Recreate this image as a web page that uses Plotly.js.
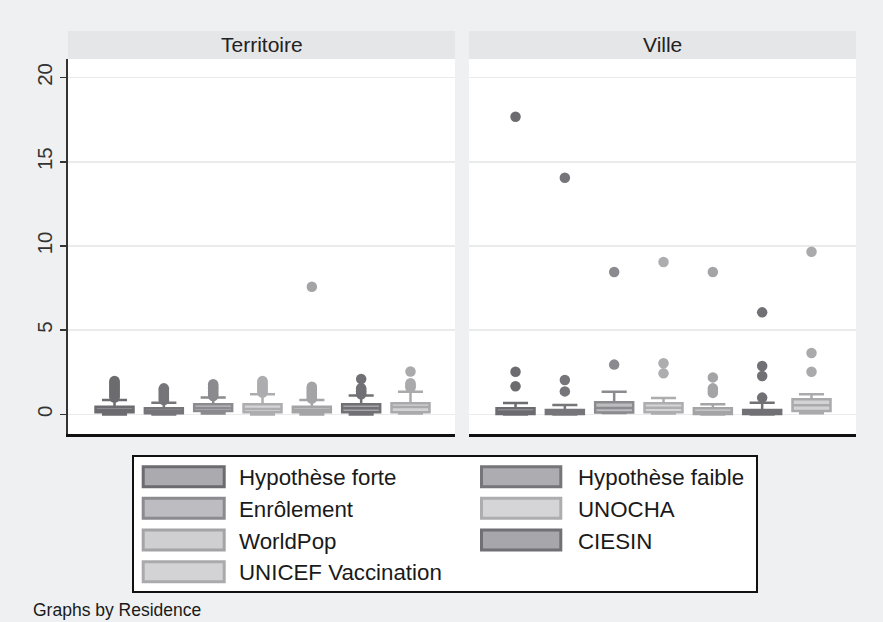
<!DOCTYPE html>
<html>
<head>
<meta charset="utf-8">
<script src="https://cdn.plot.ly/plotly-3.0.1.min.js"></script>
<style>html,body{margin:0;padding:0;background:#eef0f2;}</style>
</head>
<body>
<div id="chart" style="width:883px;height:622px;"></div>
<script>
// ---- Data ----
const seriesNames = ['Hypothèse forte','Hypothèse faible','Enrôlement','UNOCHA','WorldPop','CIESIN','UNICEF Vaccination'];
const panelNames = ['Territoire','Ville'];

// Territoire panel box statistics
const terrLow    = [0.00, 0.00, 0.05, 0.00, 0.00, 0.00, 0.05];
const terrQ1     = [0.13, 0.07, 0.21, 0.13, 0.13, 0.13, 0.13];
const terrMedian = [0.28, 0.20, 0.38, 0.33, 0.28, 0.37, 0.45];
const terrQ3     = [0.46, 0.37, 0.60, 0.60, 0.46, 0.60, 0.66];
const terrHigh   = [0.86, 0.70, 1.00, 1.20, 0.86, 1.12, 1.35];
const terrOutliers = [
  [1.00,1.08,1.17,1.25,1.33,1.42,1.50,1.59,1.67,1.75,1.84,1.92,1.99],
  [0.85,0.93,1.01,1.09,1.17,1.25,1.33,1.41,1.48,1.55],
  [1.10,1.18,1.27,1.36,1.45,1.54,1.62,1.71,1.79],
  [1.30,1.38,1.46,1.55,1.63,1.72,1.81,1.90,1.99],
  [0.95,1.03,1.12,1.21,1.30,1.39,1.48,1.57,1.65,7.58],
  [1.20,1.29,1.38,1.47,1.56,2.10],
  [1.60,1.68,1.76,1.85,2.55]
];

// Ville panel box statistics
const villeLow    = [0.00, 0.00, 0.08, 0.05, 0.00, 0.00, 0.07];
const villeQ1     = [0.02, 0.02, 0.12, 0.13, 0.02, 0.02, 0.20];
const villeMedian = [0.18, 0.12, 0.38, 0.40, 0.15, 0.12, 0.55];
const villeQ3     = [0.37, 0.27, 0.72, 0.66, 0.37, 0.27, 0.90];
const villeHigh   = [0.68, 0.56, 1.35, 0.98, 0.60, 0.70, 1.20];
const villeOutliers = [
  [1.67, 2.54, 17.67],
  [1.37, 2.05, 14.05],
  [2.96, 8.46],
  [2.44, 3.04, 9.05],
  [1.28, 1.40, 1.55, 2.20, 8.46],
  [1.00, 2.28, 2.88, 6.06],
  [2.54, 3.65, 9.66]
];

const yTicks = [0, 5, 10, 15, 20];
const noteText = 'Graphs by Residence';

// ---- Styles ----
const lineColors = ['#6c6c70','#75757a','#8b8b8f','#adadb0','#a4a4a7','#717175','#aaaaad'];
const fillColors = ['#ababaf','#adadb1','#bdbdc1','#d5d5d7','#cfcfd2','#a7a7ab','#d3d3d5'];
const FONT = '"Liberation Sans", Arial, sans-serif';

const panels = [
  {low: terrLow, q1: terrQ1, med: terrMedian, q3: terrQ3, high: terrHigh, out: terrOutliers, xa: 'x', ya: 'y'},
  {low: villeLow, q1: villeQ1, med: villeMedian, q3: villeQ3, high: villeHigh, out: villeOutliers, xa: 'x2', ya: 'y2'}
];

const traces = [];
panels.forEach(p => {
  seriesNames.forEach((name, i) => {
    traces.push({
      type: 'box', name: name, x: [name],
      q1: [p.q1[i]], median: [p.med[i]], q3: [p.q3[i]],
      lowerfence: [p.low[i]], upperfence: [p.high[i]],
      width: 0.77, whiskerwidth: 0.66, boxpoints: false,
      line: {color: lineColors[i], width: 2.5},
      fillcolor: fillColors[i],
      xaxis: p.xa, yaxis: p.ya, showlegend: false, hoverinfo: 'skip'
    });
    traces.push({
      type: 'scatter', mode: 'markers', name: name,
      x: p.out[i].map(() => name), y: p.out[i],
      marker: {color: lineColors[i], size: 10.5, line: {width: 0}},
      xaxis: p.xa, yaxis: p.ya, showlegend: false, hoverinfo: 'skip'
    });
  });
});

// pixel -> paper helpers (plot area: x 68..856, y 59..434)
const L = 68, R = 856, T = 59, B = 434;
const px = x => (x - L) / (R - L);
const py = y => (B - y) / (B - T);

const xBase = {
  type: 'category', categoryorder: 'array', categoryarray: seriesNames,
  range: [-0.943, 6.902], showticklabels: false, ticks: '', showgrid: false,
  zeroline: false, showline: true, linecolor: '#111', linewidth: 2.5, fixedrange: true
};
const yBase = {
  range: [-1.16, 21.1], tickvals: yTicks, showgrid: true, gridcolor: '#eaebed', gridwidth: 1.6,
  zeroline: false, fixedrange: true
};

const shapes = [];
const annotations = [];
// strips
[[0, px(455)], [px(469), 1]].forEach((d, k) => {
  shapes.push({type: 'rect', xref: 'paper', yref: 'paper', x0: d[0], x1: d[1], y0: 1, y1: py(31),
    fillcolor: '#e5e6e8', line: {width: 0}, layer: 'below'});
  annotations.push({xref: 'paper', yref: 'paper', x: (d[0] + d[1]) / 2, y: py(45), text: panelNames[k],
    showarrow: false, xanchor: 'center', yanchor: 'middle', font: {family: FONT, size: 21, color: '#222'}});
});
// legend box
shapes.push({type: 'rect', xref: 'paper', yref: 'paper', x0: px(133), x1: px(757), y0: py(456), y1: py(592),
  fillcolor: 'white', line: {color: '#111', width: 2}});
const rowCenters = [476.7, 508.3, 540, 571.7];
const swX = [[143.2, 224.2], [481.5, 560.8]];
const txX = [237, 576];
seriesNames.forEach((name, i) => {
  const r = Math.floor(i / 2), c = i % 2, yc = rowCenters[r];
  shapes.push({type: 'rect', xref: 'paper', yref: 'paper', x0: px(swX[c][0]), x1: px(swX[c][1]),
    y0: py(yc + 10), y1: py(yc - 10), fillcolor: fillColors[i], line: {color: lineColors[i], width: 3}});
  annotations.push({xref: 'paper', yref: 'paper', x: px(txX[c]), y: py(yc + 1), text: name, showarrow: false,
    xanchor: 'left', yanchor: 'middle', font: {family: FONT, size: 22.3, color: '#1a1a1a'}});
});
annotations.push({xref: 'paper', yref: 'paper', x: px(31), y: py(610), text: noteText, showarrow: false,
  xanchor: 'left', yanchor: 'middle', font: {family: FONT, size: 17.5, color: '#1a1a1a'}});

const layout = {
  width: 883, height: 622,
  paper_bgcolor: '#eef0f2', plot_bgcolor: '#ffffff',
  margin: {l: L, r: 883 - R, t: T, b: 622 - B, pad: 0},
  font: {family: FONT, color: '#222'},
  showlegend: false,
  xaxis: Object.assign({}, xBase, {domain: [0, px(455)], anchor: 'y'}),
  xaxis2: Object.assign({}, xBase, {domain: [px(469), 1], anchor: 'y2'}),
  yaxis: Object.assign({}, yBase, {anchor: 'x', ticks: 'outside', ticklen: 6, tickwidth: 1.5, tickcolor: '#333',
    tickangle: -90, showline: true, linecolor: '#333', linewidth: 1.6,
    tickfont: {family: FONT, size: 20.5, color: '#333'}}),
  yaxis2: Object.assign({}, yBase, {anchor: 'x2', matches: 'y', showticklabels: false, ticks: '', showline: false}),
  shapes: shapes,
  annotations: annotations
};

Plotly.newPlot('chart', traces, layout, {staticPlot: true, displayModeBar: false});
</script>
</body>
</html>
